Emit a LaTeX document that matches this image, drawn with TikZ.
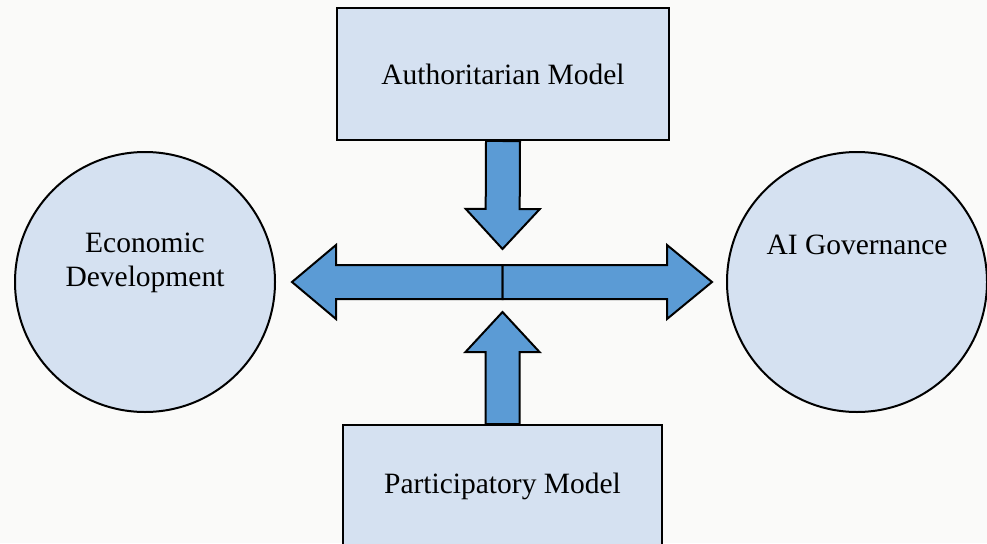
\documentclass[tikz,border=0pt]{standalone}
\usepackage{fontspec}
\setmainfont{Liberation Serif}
\usetikzlibrary{calc}

\definecolor{boxblue}{RGB}{213,225,241}
\definecolor{arrowblue}{RGB}{91,155,213}
\definecolor{paper}{RGB}{250,250,249}

\newcommand{\blockarrow}[3]{%
  \path ($(#2)!#3!(#1)$) coordinate (hb);
  \draw[blockarrow] ($(#1)!17pt!90:(#2)$) -- ($(hb)!17pt!90:(#2)$) -- ($(hb)!37pt!90:(#2)$)
    -- (#2) -- ($(hb)!37pt!-90:(#2)$) -- ($(hb)!17pt!-90:(#2)$) -- ($(#1)!17pt!-90:(#2)$) -- cycle;
}

\begin{document}
\begin{tikzpicture}[x=1pt,y=-1pt,
  modelbox/.style={draw,fill=boxblue,line width=2pt,rectangle,inner sep=0pt,font=\fontsize{29.5}{34}\selectfont},
  goal/.style={draw,fill=boxblue,line width=2pt,circle,inner sep=0pt,minimum size=260pt},
  goaltext/.style={align=center,font=\fontsize{29.5}{34}\selectfont},
  blockarrow/.style={draw,fill=arrowblue,line width=2pt,line join=miter}]

\fill[paper] (0,0) rectangle (987,543);
\useasboundingbox (0,0) rectangle (987,543);

\node[modelbox,minimum width=332pt,minimum height=132pt] (auth) at (503,74) {Authoritarian Model};
\node[modelbox,minimum width=319pt,minimum height=122pt] (part) at (502.5,486) {Participatory Model};
\node[goal,label={[goaltext,yshift=19pt]center:Economic\\Development}] (econ) at (145,282) {};
\node[goal,label={[goaltext,yshift=37pt]center:AI Governance}] (gov) at (857,282) {};

\coordinate (hub) at (502.5,282);
\coordinate (tipD) at ($(hub)+(0,-33)$);
\coordinate (tipU) at ($(hub)+(0,30)$);
\coordinate (tipL) at ($(econ.east)+(16,0)$);
\coordinate (tipR) at ($(gov.west)+(-14,0)$);

\blockarrow{auth.south}{tipD}{40pt}
\blockarrow{part.north}{tipU}{40pt}
\blockarrow{hub}{tipL}{44pt}
\blockarrow{hub}{tipR}{45pt}

\end{tikzpicture}
\end{document}
